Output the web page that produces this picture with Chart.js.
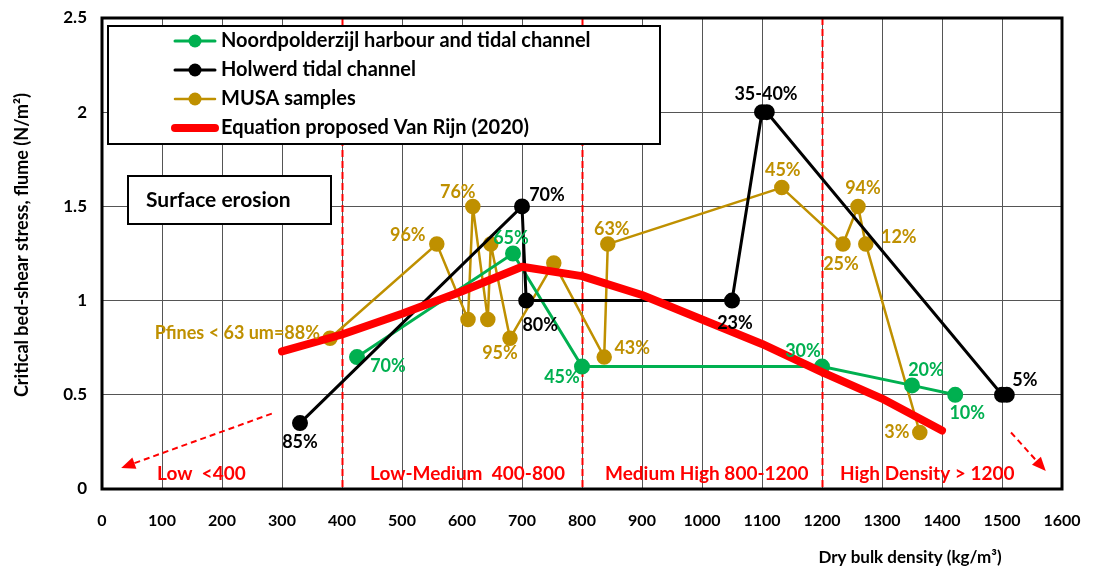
<!DOCTYPE html>
<html>
<head>
<meta charset="utf-8">
<script src="https://cdn.jsdelivr.net/npm/chart.js@4.4.1/dist/chart.umd.min.js"></script>
<style>
  html, body { margin: 0; padding: 0; background: #ffffff; }
  #wrap { width: 1096px; height: 574px; }
</style>
</head>
<body>
<div id="wrap"><canvas id="c" width="1096" height="574"></canvas></div>
<script>
// ---------------- DATA ----------------
const xTicks = [0,100,200,300,400,500,600,700,800,900,1000,1100,1200,1300,1400,1500,1600];
const yTicks = [0,0.5,1,1.5,2,2.5];

const noordName = 'Noordpolderzijl harbour and tidal channel';
const noordX = [425, 685, 800, 1200, 1350, 1422];
const noordY = [0.70, 1.25, 0.65, 0.65, 0.55, 0.50];
const noordLbl = ['70%', '65%', '45%', '30%', '20%', '10%'];

const holwerdName = 'Holwerd tidal channel';
const holwerdX = [330, 700, 707, 1050, 1100, 1108, 1500, 1508];
const holwerdY = [0.35, 1.50, 1.00, 1.00, 2.00, 2.00, 0.50, 0.50];
const holwerdLbl = ['85%', '70%', '80%', '23%', '35-40%', '', '', '5%'];

const musaName = 'MUSA samples';
const musaX = [380, 558, 610, 618, 643, 648, 680, 753, 837, 843, 1133, 1235, 1260, 1273, 1363];
const musaY = [0.80, 1.30, 0.90, 1.50, 0.90, 1.30, 0.80, 1.20, 0.70, 1.30, 1.60, 1.30, 1.50, 1.30, 0.30];
const musaLbl = ['Pfines < 63 um=88%', '96%', '', '76%', '', '', '95%', '', '43%', '63%', '45%', '25%', '94%', '12%', '3%'];

const vanRijnName = 'Equation proposed Van Rijn (2020)';
const vanRijnX = [300, 400, 500, 600, 700, 800, 900, 1000, 1100, 1200, 1300, 1400];
const vanRijnY = [0.73, 0.82, 0.93, 1.05, 1.18, 1.13, 1.03, 0.90, 0.77, 0.62, 0.48, 0.31];

const zoneBounds = [400, 800, 1200];
const zoneLabels = ['Low  <400', 'Low-Medium  400-800', 'Medium High 800-1200', 'High Density > 1200'];
const boxText = 'Surface erosion';
const xTitle = 'Dry bulk density (kg/m\u00B3)';
const yTitle = 'Critical bed-shear stress, flume (N/m\u00B2)';

// ---------------- STYLE / LAYOUT ----------------
const FONT = 'Lato, "Open Sans", "DejaVu Sans", sans-serif';
const GREEN = '#00B050', BLACK = '#000000', GOLD = '#BF9000', RED = '#FF0000';

// label offsets in pixels (dx, dy, align)
const noordOff = [[31,9,'center'],[-2,-15,'center'],[-20,11,'center'],[-19,-15,'center'],[14,-15,'center'],[12,18,'center']];
const holwerdOff = [[0,19,'center'],[25,-11,'center'],[14,25,'center'],[3,23,'center'],[4,-18,'center'],[0,0,'center'],[0,0,'center'],[18,-15,'center']];
const musaOff = [[-10,-5,'right'],[-29,-9,'center'],[0,0,'center'],[-15,-14,'center'],[0,0,'center'],[0,0,'center'],[-10,15,'center'],[0,0,'center'],[28,-9,'center'],[4,-15,'center'],[1,-17,'center'],[-2,20,'center'],[5,-18,'center'],[33,-7,'center'],[-23,0,'center']];
const zoneTextX = [157, 370, 605, 840];   // pixel left of each zone label
const zoneTextY = 474;

function pts(xs, ys) { return xs.map((x, i) => ({x: x, y: ys[i]})); }

const datasets = [
  { label: musaName, data: pts(musaX, musaY), borderColor: GOLD, backgroundColor: GOLD,
    borderWidth: 2.5, pointRadius: 6.5, pointHoverRadius: 6.5, showLine: true, order: 4 },
  { label: noordName, data: pts(noordX, noordY), borderColor: GREEN, backgroundColor: GREEN,
    borderWidth: 3, pointRadius: 6.5, pointHoverRadius: 6.5, showLine: true, order: 3 },
  { label: holwerdName, data: pts(holwerdX, holwerdY), borderColor: BLACK, backgroundColor: BLACK,
    borderWidth: 3, pointRadius: 6.5, pointHoverRadius: 6.5, showLine: true, order: 2 },
  { label: vanRijnName, data: pts(vanRijnX, vanRijnY), borderColor: RED, backgroundColor: RED,
    borderWidth: 8, pointRadius: 0, showLine: true, borderCapStyle: 'round', borderJoinStyle: 'round', order: 1 }
];

function arrow(ctx, x1, y1, x2, y2) {
  const ang = Math.atan2(y2 - y1, x2 - x1);
  const head = 14;
  const bx = x2 - head * Math.cos(ang), by = y2 - head * Math.sin(ang);
  ctx.save();
  ctx.strokeStyle = RED; ctx.fillStyle = RED; ctx.lineWidth = 2;
  ctx.setLineDash([6, 4]);
  ctx.beginPath(); ctx.moveTo(x1, y1); ctx.lineTo(bx, by); ctx.stroke();
  ctx.setLineDash([]);
  ctx.beginPath();
  ctx.moveTo(x2, y2);
  ctx.lineTo(bx + 6 * Math.sin(ang), by - 6 * Math.cos(ang));
  ctx.lineTo(bx - 6 * Math.sin(ang), by + 6 * Math.cos(ang));
  ctx.closePath(); ctx.fill();
  ctx.restore();
}

const decor = {
  id: 'decor',
  beforeDatasetsDraw(chart) {
    const {ctx, scales: {x, y}, chartArea: a} = chart;
    ctx.save();
    ctx.strokeStyle = RED; ctx.lineWidth = 2; ctx.setLineDash([7, 4]);
    zoneBounds.forEach(v => {
      const px = Math.round(x.getPixelForValue(v)) + 0.5;
      ctx.beginPath(); ctx.moveTo(px, a.top); ctx.lineTo(px, a.bottom); ctx.stroke();
    });
    ctx.setLineDash([]);
    ctx.fillStyle = RED; ctx.font = 'bold 19px ' + FONT;
    ctx.textAlign = 'left'; ctx.textBaseline = 'middle';
    zoneLabels.forEach((t, i) => ctx.fillText(t, zoneTextX[i], zoneTextY));
    arrow(ctx, x.getPixelForValue(283), y.getPixelForValue(0.40), x.getPixelForValue(32), y.getPixelForValue(0.112));
    arrow(ctx, x.getPixelForValue(1515), y.getPixelForValue(0.30), x.getPixelForValue(1573), y.getPixelForValue(0.095));
    ctx.restore();
  },
  afterDatasetsDraw(chart) {
    const {ctx, scales: {x, y}, chartArea: a} = chart;
    ctx.save();
    ctx.font = 'bold 18px ' + FONT; ctx.textBaseline = 'middle';
    const groups = [
      [musaX, musaY, musaLbl, musaOff, GOLD],
      [noordX, noordY, noordLbl, noordOff, GREEN],
      [holwerdX, holwerdY, holwerdLbl, holwerdOff, BLACK]
    ];
    groups.forEach(([xs, ys, ls, off, col]) => {
      ctx.fillStyle = col;
      ls.forEach((t, i) => {
        if (!t) return;
        ctx.textAlign = off[i][2];
        ctx.fillText(t, x.getPixelForValue(xs[i]) + off[i][0], y.getPixelForValue(ys[i]) + off[i][1]);
      });
    });

    // legend box
    const L = 108, T = 26, R = 660, B = 144;
    ctx.fillStyle = '#ffffff'; ctx.fillRect(L, T, R - L, B - T);
    ctx.strokeStyle = '#000'; ctx.lineWidth = 2; ctx.strokeRect(L, T, R - L, B - T);
    const rows = [
      [noordName, GREEN, 3, true],
      [holwerdName, BLACK, 3, true],
      [musaName, GOLD, 2.5, true],
      [vanRijnName, RED, 8, false]
    ];
    rows.forEach(([name, col, w, pt], i) => {
      const cy = 41 + i * 29;
      ctx.strokeStyle = col; ctx.lineWidth = w; ctx.lineCap = 'round';
      ctx.beginPath(); ctx.moveTo(175, cy); ctx.lineTo(215, cy); ctx.stroke();
      if (pt) { ctx.fillStyle = col; ctx.beginPath(); ctx.arc(195, cy, 6.5, 0, Math.PI * 2); ctx.fill(); }
      ctx.fillStyle = '#000'; ctx.textAlign = 'left'; ctx.font = 'bold 20px ' + FONT;
      ctx.fillText(name, 221, cy);
    });
    ctx.lineCap = 'butt';

    // surface erosion box
    ctx.fillStyle = '#fff'; ctx.fillRect(128, 176, 203, 48);
    ctx.strokeStyle = '#000'; ctx.lineWidth = 2; ctx.strokeRect(128, 176, 203, 48);
    ctx.fillStyle = '#000'; ctx.font = 'bold 21px ' + FONT; ctx.textAlign = 'left';
    ctx.fillText(boxText, 146, 200);

    // plot border
    ctx.strokeStyle = '#000'; ctx.lineWidth = 3;
    ctx.strokeRect(a.left, a.top, a.right - a.left, a.bottom - a.top);

    // axis titles
    ctx.fillStyle = '#000'; ctx.font = 'bold 17px ' + FONT; ctx.textAlign = 'center';
    ctx.fillText(xTitle, 910, 558);
    ctx.font = 'bold 18px ' + FONT;
    ctx.translate(22, 245); ctx.rotate(-Math.PI / 2);
    ctx.fillText(yTitle, 0, 0);
    ctx.restore();
  }
};

new Chart(document.getElementById('c'), {
  type: 'scatter',
  data: { datasets: datasets },
  options: {
    responsive: false,
    animation: false,
    layout: { padding: { top: 18, right: 34, left: 0, bottom: 0 } },
    plugins: { legend: { display: false }, tooltip: { enabled: false } },
    scales: {
      x: {
        type: 'linear', min: xTicks[0], max: xTicks[xTicks.length - 1],
        afterBuildTicks: s => { s.ticks = xTicks.map(v => ({value: v})); },
        afterFit: s => { s.height = 85; s.paddingLeft = 0; s.paddingRight = 0; },
        grid: { color: '#555555', lineWidth: 1, drawTicks: false },
        border: { display: false },
        ticks: { color: '#000', font: { family: FONT, size: 16, weight: 'bold' }, padding: 22, maxRotation: 0,
                 autoSkip: false, callback: v => String(v) }
      },
      y: {
        type: 'linear', min: yTicks[0], max: yTicks[yTicks.length - 1],
        afterBuildTicks: s => { s.ticks = yTicks.map(v => ({value: v})); },
        afterFit: s => { s.width = 102; s.paddingTop = 0; s.paddingBottom = 0; },
        grid: { color: '#555555', lineWidth: 1, drawTicks: false },
        border: { display: false },
        ticks: { color: '#000', font: { family: FONT, size: 17, weight: 'bold' }, padding: 15,
                 callback: v => String(v) }
      }
    }
  },
  plugins: [decor]
});
</script>
</body>
</html>
